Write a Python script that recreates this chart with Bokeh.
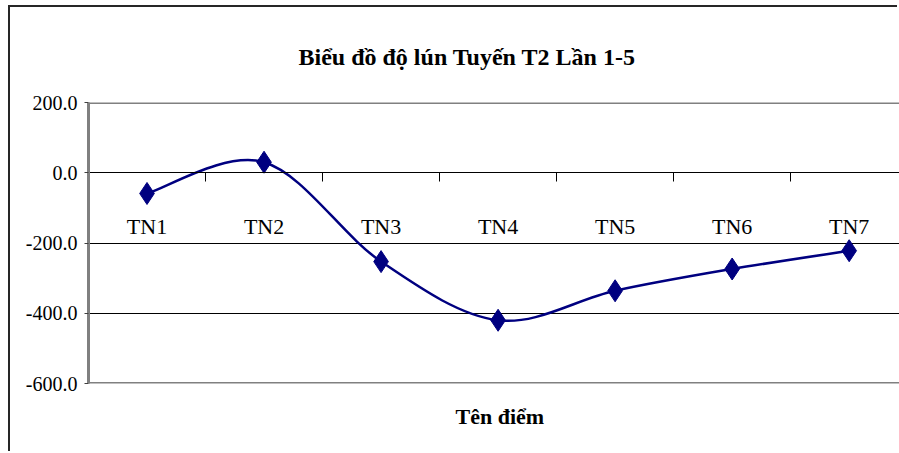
from bokeh.plotting import figure
from bokeh.models import (FixedTicker, Span, Title, LinearAxis, PrintfTickFormatter,
                          CustomJSTickFormatter)
from bokeh.embed import file_html
from bokeh.resources import INLINE

# Settlement per survey point (line T2, rounds 1-5)
points = ["TN1", "TN2", "TN3", "TN4", "TN5", "TN6", "TN7"]
settlement = [-59, 30, -253, -420, -336, -274, -222]
y_ticks = [-600, -400, -200, 0, 200]
Y_MIN, Y_MAX = -600, 200

xs = list(range(len(points)))
n = len(xs)


def tangent(i):
    """Catmull-Rom style tangent used for the smoothed curve."""
    if i == 0:
        return (xs[1] - xs[0]) / 2, (settlement[1] - settlement[0]) / 2
    if i == n - 1:
        return (xs[-1] - xs[-2]) / 2, (settlement[-1] - settlement[-2]) / 2
    return (xs[i + 1] - xs[i - 1]) / 2, (settlement[i + 1] - settlement[i - 1]) / 2


tangents = [tangent(i) for i in range(n)]
seg = range(n - 1)
bz = dict(
    x0=[xs[i] for i in seg], y0=[settlement[i] for i in seg],
    x1=[xs[i + 1] for i in seg], y1=[settlement[i + 1] for i in seg],
    cx0=[xs[i] + tangents[i][0] / 3 for i in seg],
    cy0=[settlement[i] + tangents[i][1] / 3 for i in seg],
    cx1=[xs[i + 1] - tangents[i + 1][0] / 3 for i in seg],
    cy1=[settlement[i + 1] - tangents[i + 1][1] / 3 for i in seg],
)

SERIF = "'Liberation Serif'"
NAVY = "#000080"

p = figure(width=889, height=446, x_range=(-0.5, 6.43), y_range=(Y_MIN, Y_MAX),
           x_axis_type=None, output_backend="svg", toolbar_location=None,
           min_border_left=78, min_border_right=0, min_border_top=95,
           min_border_bottom=70)
p.margin = (7, 0, 0, 10)
p.styles = {"box-shadow": "-2px -2px 0 0 #262626"}
p.outline_line_color = None
p.background_fill_color = "white"
p.border_fill_color = "white"

# Chart title
p.title.text = "Biểu đồ độ lún Tuyến T2 Lần  1-5"
p.title.align = "left"
p.title.offset = 210
p.title.standoff = 66
p.title.text_font = SERIF
p.title.text_font_size = "24px"
p.title.text_font_style = "bold"
p.title.text_color = "black"

# Value axis
p.yaxis.ticker = FixedTicker(ticks=y_ticks)
p.yaxis.formatter = PrintfTickFormatter(format="%.1f")
p.yaxis.axis_line_color = "#808080"
p.yaxis.axis_line_width = 3
p.yaxis.major_tick_out = 4
p.yaxis.major_tick_in = 0
p.yaxis.major_tick_line_color = "#404040"
p.yaxis.minor_tick_line_color = None
p.yaxis.major_label_standoff = 7
p.yaxis.major_label_text_font = SERIF
p.yaxis.major_label_text_font_size = "20px"
p.yaxis.major_label_text_color = "black"
p.ygrid.grid_line_color = "black"
p.ygrid.grid_line_width = 1

# Plot-area border lines at the range ends
p.add_layout(Span(location=Y_MAX, dimension="width", line_color="#808080", line_width=3))
p.add_layout(Span(location=Y_MIN, dimension="width", line_color="#808080", line_width=3))

# Category axis crossing at zero
cat_axis = LinearAxis(
    fixed_location=0,
    ticker=FixedTicker(ticks=xs, minor_ticks=[x + 0.5 for x in xs[:-1]]),
    formatter=CustomJSTickFormatter(args=dict(names=points),
                                    code="return names[Math.round(tick)] ?? ''"),
    axis_line_color="black",
    major_tick_out=0, major_tick_in=0,
    minor_tick_out=9, minor_tick_in=0, minor_tick_line_color="black",
    major_label_standoff=32,
    major_label_text_font=SERIF, major_label_text_font_size="22px",
    major_label_text_color="black",
)
p.add_layout(cat_axis, "below")

# Category axis title below the plot area
p.add_layout(Title(text="Tên điểm", align="left", offset=367, standoff=36,
                   text_font=SERIF, text_font_size="22px", text_font_style="bold",
                   text_color="black"), "below")

# Smoothed settlement line with diamond markers
p.bezier(x0="x0", y0="y0", x1="x1", y1="y1", cx0="cx0", cy0="cy0", cx1="cx1", cy1="cy1",
         source=bz, line_color=NAVY, line_width=2.5)
p.scatter(xs, settlement, marker="diamond", size=22, fill_color=NAVY, line_color=NAVY)

open("out.html", "w").write(file_html(p, INLINE))
